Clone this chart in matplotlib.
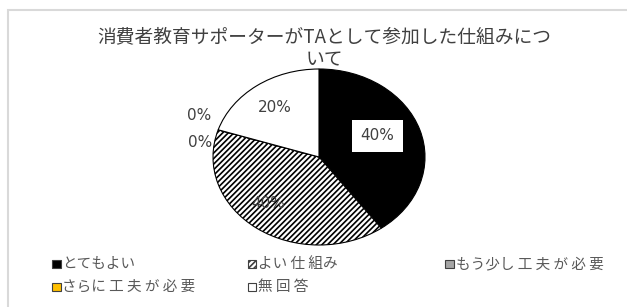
import matplotlib
matplotlib.use("Agg")
import matplotlib.pyplot as plt
from matplotlib.patches import Rectangle

plt.rcParams['font.family'] = ['Noto Sans CJK JP', 'DejaVu Sans']
plt.rcParams['hatch.linewidth'] = 1.2

title_lines = ["消費者教育サポーターがTAとして参加した仕組みにつ", "いて"]
categories = ["とてもよい", "よい仕組み", "もう少し工夫が必要", "さらに工夫が必要", "無回答"]
legend_labels = ["とてもよい", "よい 仕 組み", "もう少し 工 夫 が 必 要", "さらに 工 夫 が 必 要", "無 回 答"]
values = [40, 40, 0, 0, 20]
colors = ["#000000", "#ffffff", "#a5a5a5", "#ffc000", "#ffffff"]
hatches = [None, "//////", None, None, None]

W, H = 627, 307
fig = plt.figure(figsize=(W/100, H/100), dpi=100)
fig.patch.set_facecolor("white")

def fx(px):
    return px / W

def fy(py):
    return 1 - py / H

# chart border
fig.add_artist(Rectangle((fx(8), -0.1), 1.0, fy(10) + 0.1, transform=fig.transFigure,
                         fill=False, edgecolor="#d9d9d9", linewidth=1.5))

fig.text(fx(324), fy(37), title_lines[0], ha="center", va="center", fontsize=13.5, color="#404040")
fig.text(fx(324), fy(60), title_lines[1], ha="center", va="center", fontsize=13.5, color="#404040")

# pie axes: ellipse from x 213..425, y 69..245
cx, cy, rx, ry = 319, 157, 106, 88
ax = fig.add_axes([fx(cx - rx*1.6), fy(cy + ry*1.2), rx*3.2/W, ry*2.4/H])
wedges, _ = ax.pie(values, colors=colors, startangle=90, counterclock=False,
                   wedgeprops=dict(edgecolor="black", linewidth=0.8), radius=1.0)
for w, h in zip(wedges, hatches):
    if h:
        w.set_hatch(h)
ax.set_aspect('auto')
ax.set_xlim(-1.6, 1.6)
ax.set_ylim(-1.2, 1.2)
ax.axis('off')

# percentage labels
offsets = {0: (0.55, 0.24), 1: (-0.48, -0.53), 2: (-1.12, 0.16), 3: (-1.13, 0.47), 4: (-0.42, 0.56)}
for i, v in enumerate(values):
    x, y = offsets[i]
    kw = dict(ha="center", va="center", fontsize=11, color="#404040", family="DejaVu Sans")
    if i == 0:
        kw["bbox"] = dict(boxstyle="square,pad=0.55", facecolor="white", edgecolor="none")
    ax.text(x, y, f"{v}%", **kw)

# legend (row-major, 3 columns)
col_x = [52, 248, 445]
row_y = [264, 287]
ms = 8.5
for i, (lab, c, h) in enumerate(zip(legend_labels, colors, hatches)):
    r, col = divmod(i, 3)
    x0, y0 = col_x[col], row_y[r]
    fig.add_artist(Rectangle((fx(x0), fy(y0 + ms/2)), ms/W, ms/H, transform=fig.transFigure,
                             facecolor=c, edgecolor="#404040", hatch=h, linewidth=0.8))
    fig.text(fx(x0 + ms + 2), fy(y0), lab, ha="left", va="center", fontsize=10.5, color="#595959")

fig.savefig("out.png", dpi=100, facecolor="white")
